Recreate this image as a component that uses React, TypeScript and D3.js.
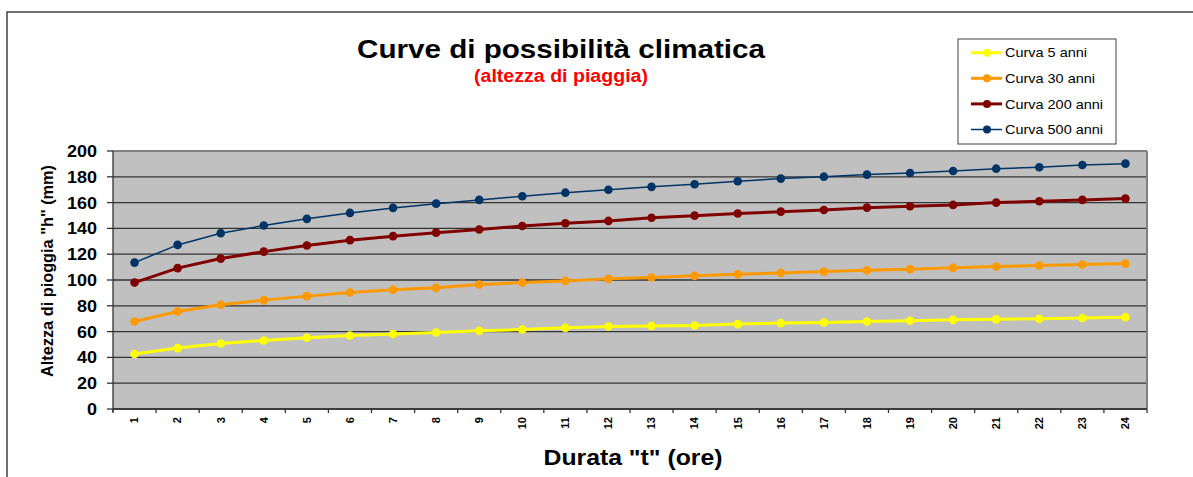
import React from "react";
import * as d3 from "d3";

const durations = d3.range(1, 25).map(String);
const yTicks = [0, 20, 40, 60, 80, 100, 120, 140, 160, 180, 200];

const curva5 = [42.6, 47.2, 50.8, 53.1, 55.2, 57.0, 58.1, 59.3, 60.6, 61.6, 62.9, 64.0, 64.4, 64.7, 65.8, 66.6, 67.1, 67.8, 68.4, 69.1, 69.5, 69.9, 70.5, 71.2];
const curva30 = [67.8, 75.6, 80.8, 84.4, 87.5, 90.3, 92.4, 93.9, 96.5, 98.0, 99.3, 100.9, 101.9, 103.2, 104.5, 105.5, 106.5, 107.6, 108.4, 109.4, 110.4, 111.2, 112.0, 112.7];
const curva200 = [98.0, 109.2, 116.6, 122.0, 126.7, 130.9, 134.0, 136.7, 139.1, 141.9, 144.0, 145.8, 148.2, 149.9, 151.5, 153.0, 154.3, 156.1, 157.2, 158.2, 160.0, 161.1, 162.1, 163.1];
const curva500 = [113.5, 127.2, 136.3, 142.2, 147.4, 152.0, 155.9, 159.2, 162.1, 164.9, 167.7, 170.0, 172.2, 174.2, 176.5, 178.6, 180.1, 181.7, 183.0, 184.5, 186.3, 187.4, 189.2, 190.2];

const seriesNames = ["Curva 5 anni", "Curva 30 anni", "Curva 200 anni", "Curva 500 anni"];
const seriesValues = [curva5, curva30, curva200, curva500];
const seriesColors = ["#FFFF00", "#FF9900", "#800000", "#003366"];
const seriesWidths = [3, 3, 3, 1.5];
const legendTextLengths = [82, 90, 98, 98];

const W = 1193;
const H = 477;
const font = "'Liberation Sans', Arial, sans-serif";

export default function App() {
  const left = 113, right = 1147, top = 151, bottom = 409;
  const x = d3.scaleBand<string>().domain(durations).range([left, right]);
  const y = d3.scaleLinear().domain([0, 200]).range([bottom, top]);
  const cx = (i: number) => (x(durations[i]) as number) + x.bandwidth() / 2;
  const line = d3.line<number>().x((_, i) => cx(i)).y((v) => y(v));

  const legX = 958, legY = 39, legW = 158, legH = 105;

  return (
    <svg width={W} height={H} style={{ position: "absolute", left: 0, top: 0, background: "#fff" }}>
      <rect x={0} y={0} width={W} height={H} fill="#fff" />
      <rect x={7} y={12} width={W + 20} height={H + 20} fill="none" stroke="#404040" strokeWidth={1.5} />

      {/* plot area */}
      <rect x={left} y={top} width={right - left} height={bottom - top} fill="#C0C0C0" />
      {yTicks.map((t) => (
        <line key={"g" + t} x1={left} x2={right} y1={y(t)} y2={y(t)} stroke={t === 200 ? "#808080" : "#333333"} strokeWidth={t === 200 ? 2 : 1.3} />
      ))}
      <line x1={right} x2={right} y1={top} y2={bottom} stroke="#808080" strokeWidth={2} />
      <line x1={left} x2={left} y1={top} y2={bottom + 3} stroke="#333333" strokeWidth={1.3} />
      <line x1={left} x2={right} y1={bottom} y2={bottom} stroke="#333333" strokeWidth={1.3} />

      {/* y ticks */}
      {yTicks.map((t) => (
        <g key={"yt" + t}>
          <line x1={left - 6} x2={left} y1={y(t)} y2={y(t)} stroke="#333333" strokeWidth={1.3} />
          <text x={97} y={y(t)} dy="0.36em" textAnchor="end" fontFamily={font} fontWeight="bold" fontSize={16.5}
            textLength={String(t).length * 10} lengthAdjust="spacingAndGlyphs" fill="#000">{t}</text>
        </g>
      ))}

      {/* x ticks */}
      {d3.range(0, durations.length + 1).map((i) => {
        const xx = left + i * x.bandwidth();
        return <line key={"xt" + i} x1={xx} x2={xx} y1={bottom} y2={bottom + 4} stroke="#333333" strokeWidth={1.3} />;
      })}
      {durations.map((d, i) => (
        <text key={"xl" + d} transform={`translate(${cx(i)},${417}) rotate(-90)`} dy="0.35em" textAnchor="end" fontFamily={font} fontWeight="bold" fontSize={11} fill="#000">{d}</text>
      ))}

      {/* series */}
      {seriesValues.map((vals, s) => (
        <g key={"s" + s}>
          <path d={line(vals) as string} fill="none" stroke={seriesColors[s]} strokeWidth={seriesWidths[s]} />
          {vals.map((v, i) => (
            <circle key={i} cx={cx(i)} cy={y(v)} r={4.3} fill={seriesColors[s]} />
          ))}
        </g>
      ))}

      {/* titles */}
      <text x={561} y={58} textAnchor="middle" fontFamily={font} fontWeight="bold" fontSize={25.5} textLength={408} lengthAdjust="spacingAndGlyphs" fill="#000">Curve di possibilità climatica</text>
      <text x={561} y={82} textAnchor="middle" fontFamily={font} fontWeight="bold" fontSize={17.5} textLength={174} lengthAdjust="spacingAndGlyphs" fill="#FF0000">(altezza di piaggia)</text>
      <text x={633} y={465} textAnchor="middle" fontFamily={font} fontWeight="bold" fontSize={22.5} textLength={179} lengthAdjust="spacingAndGlyphs" fill="#000">Durata "t" (ore)</text>
      <text transform={`translate(53,271) rotate(-90)`} textAnchor="middle" fontFamily={font} fontWeight="bold" fontSize={16} textLength={212} lengthAdjust="spacingAndGlyphs" fill="#000">Altezza di pioggia "h" (mm)</text>

      {/* legend */}
      <rect x={legX} y={legY} width={legW} height={legH} fill="#fff" stroke="#404040" strokeWidth={1} />
      {seriesNames.map((n, s) => {
        const ly = 52.7 + s * 25.6;
        return (
          <g key={"l" + s}>
            <line x1={971} x2={1002} y1={ly} y2={ly} stroke={seriesColors[s]} strokeWidth={seriesWidths[s]} />
            <circle cx={987} cy={ly} r={4} fill={seriesColors[s]} />
            <text x={1005} y={ly} dy="0.35em" fontFamily={font} fontSize={13.5} textLength={legendTextLengths[s]} lengthAdjust="spacingAndGlyphs" fill="#000">{n}</text>
          </g>
        );
      })}
    </svg>
  );
}
